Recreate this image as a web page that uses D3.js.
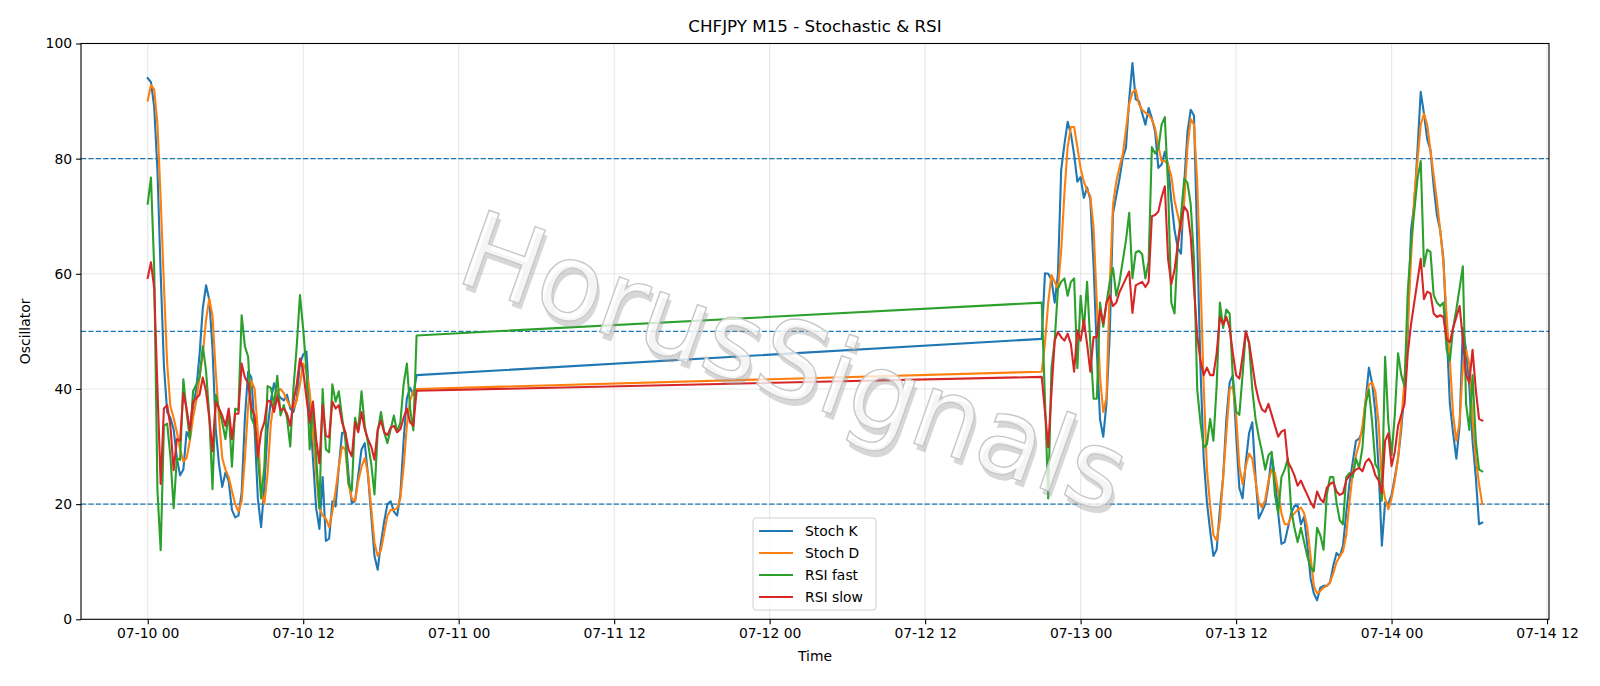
<!DOCTYPE html>
<html>
<head>
<meta charset="utf-8">
<script src="https://cdn.jsdelivr.net/npm/d3@7"></script>
<style>
  body { margin: 0; background: #fff; }
  text { font-family: "DejaVu Sans", sans-serif; }
</style>
</head>
<body>
<svg id="chart" width="1600" height="686"></svg>
<script>
// Session 1: 07-10 00:00 .. 20:45, session 2: 07-12 21:00 .. 07-14 07:00 (M15 bars)
const session1Start = "2020-07-10T00:00:00Z";
const session2Start = "2020-07-12T21:00:00Z";

const stochK1 = [94, 93.3, 89, 78, 60, 44, 36, 35, 33, 28, 25, 26, 32.5, 31.5, 37, 40, 46, 54, 58, 55.5,
  47, 33, 27, 23, 25.5, 24, 19, 17.7, 18, 22, 35, 43, 42, 33, 21, 16, 23, 33, 38, 41,
  39, 38.5, 38, 39, 36.6, 36, 38.4, 44.4, 46, 46.5, 37, 28, 19.3, 15.7, 24.7, 13.6, 14, 20.5, 19.6, 26.5,
  32.4, 32.4, 25, 20.2, 20.5, 25, 29.5, 30.6, 25, 18, 11, 8.6, 13.3, 17, 20, 20.5, 18.7, 18, 21.7, 31,
  38.4, 40.2, 39, 42.4];
const stochD1 = [90.1, 92.8, 92, 86, 73, 58, 44.4, 37, 35, 32.5, 29.5, 27.4, 28, 31, 35, 38, 42, 46, 52, 55.7,
  52.7, 43, 35, 28, 26, 24.7, 22.3, 20, 18.7, 20.5, 28, 37, 41.4, 40, 32.5, 22.3, 20, 25.3, 34, 38,
  39.6, 40, 39.3, 38, 37, 36.6, 38, 40.8, 44.4, 43, 39.6, 32.5, 25.3, 19.3, 18, 17.5, 16, 18.7, 22.3, 26.5,
  30, 29.5, 23.5, 21, 20.5, 24, 26.5, 28, 25.3, 19.3, 13.3, 11, 12, 15, 18, 19, 19, 19.3, 21, 26.5,
  33.6, 38, 39.6, 40];
const rsiFast1 = [72.2, 76.7, 61, 22.3, 12, 33.6, 34, 28.3, 19.3, 28, 27.7, 41.7, 36, 31.3, 39.6, 40.8, 42, 47.4, 43.2, 35.4,
  22.6, 39, 36.6, 34.2, 31.3, 36, 26.5, 36.6, 36.3, 52.8, 47.4, 45.6, 35, 33.6, 28.3, 21, 26.5, 40.5, 40.2, 37.2,
  42.3, 35.4, 37.2, 35, 30, 40.2, 47.4, 56.3, 50.4, 43.2, 29.5, 37.2, 28.3, 19.3, 40, 29.5, 29, 40.8, 37.8, 39.6,
  35, 31.3, 23.5, 22.3, 35, 32.8, 39.6, 33.6, 30.6, 27, 21.7, 32.5, 36, 32.5, 30.6, 33, 35.4, 32.5, 34.2, 40.8,
  44.4, 36.6, 32.8, 49.3];
const rsiSlow1 = [59.3, 62, 57.5, 40, 23.5, 36.6, 37.2, 33.6, 25.9, 31.3, 31, 39.3, 36.6, 32.8, 37.8, 38.4, 39, 42, 39.6, 35,
  29.2, 37.8, 36.6, 35.4, 33.6, 36.6, 31.3, 35.7, 35.7, 44.4, 42, 41, 36.6, 35.4, 28.3, 32.5, 34.2, 38, 37.8, 36,
  38.7, 36.3, 36.6, 35.7, 33.6, 37.8, 40.8, 45.3, 43.2, 38.4, 34.2, 37.8, 31.3, 27.1, 37.2, 31.9, 31.6, 37.8, 36.6, 37.2,
  34.2, 32.5, 29.5, 28.3, 34.2, 32.5, 36, 33, 31.3, 30, 27.7, 33, 34.5, 32.5, 32, 33.3, 33.6, 32.5, 33, 35,
  36.6, 34.2, 33.6, 39.7];

const stochK2 = [48.7, 60.1, 60, 59, 55, 60, 78, 82.5, 86.4, 84.3, 80.7, 76, 76.8, 73.2, 75, 72.9, 61.6, 46.7, 34.7, 31.7,
  37.7, 49.6, 70.5, 73.5, 76.5, 80.1, 81.9, 90.3, 96.6, 90.3, 90, 87.9, 85.9, 88.8, 87, 84.7, 78.4, 79, 81.2, 79,
  72.7, 67.6, 64.5, 63.5, 75.8, 84.7, 88.5, 87.5, 65.7, 43.7, 27.9, 20.3, 15.3, 11, 12.1, 19.1, 24.7, 34.8, 41.1, 42.4,
  32.3, 22.8, 21, 27.3, 32.3, 34.2, 24.7, 17.5, 18.7, 20, 23.5, 28.5, 24.7, 18.4, 13.1, 13.4, 15.9, 18.4, 19.7, 19.7,
  16.5, 17.8, 12.8, 7.1, 4.5, 3.3, 5.5, 5.8, 5.8, 6.4, 9.3, 11.5, 10.9, 12.8, 18.4, 23.5, 27.3, 31, 31.4, 32.6,
  38, 43.7, 41, 36, 26, 12.8, 20.3, 20.1, 21.6, 24.7, 28, 33, 40, 50, 67.6, 72, 81.5, 91.6, 87.8, 83.4,
  81.5, 75.2, 70.2, 67.6, 62.6, 50, 37.4, 32.3, 27.9, 33.6, 50.6, 46.8, 40.5, 31, 24.7, 16.5, 16.8];
const stochD2 = [43, 48, 55, 59.8, 58.6, 57.4, 64, 74, 82, 85.5, 85.5, 82, 78.3, 76, 74.5, 73.5, 68, 55, 42, 36,
  38.5, 58, 72, 76, 78.5, 80.7, 85, 89.5, 91.5, 92, 89.5, 88.5, 88, 87.6, 86.8, 85.3, 82.1, 79.6, 79.6, 79,
  77, 72.7, 70.2, 67.6, 72.7, 82.1, 86.9, 85.9, 75.8, 59.4, 40.5, 26, 19.7, 14.6, 13.7, 17.2, 24.7, 32.3, 39.9, 40.5,
  35.5, 26.6, 23.5, 26.6, 28.8, 27.9, 24.1, 20.3, 19.4, 20.8, 24.1, 26, 25.4, 22.2, 18.4, 16.5, 16.5, 17.8, 18.4, 19,
  19.4, 18.4, 15.9, 10.9, 5.8, 4.5, 4.9, 5.5, 5.8, 6.4, 8, 9.9, 10.9, 11.8, 14.6, 20.3, 25.4, 28.5, 30.4, 33.6,
  38, 40.8, 41.1, 39.5, 34, 24, 21, 19.1, 21, 24.1, 27.9, 34.2, 41.8, 51.2, 62.6, 73.3, 79.6, 85.9, 87.8, 85.9,
  81.5, 77.1, 72.7, 67.6, 62, 52.5, 44.9, 35.5, 31, 34.2, 43.7, 46.8, 44.3, 34.8, 27.9, 23.5, 20];
const rsiFast2 = [55, 38, 21, 43.6, 48.4, 57.4, 58.6, 59.2, 56.2, 58.6, 59.2, 43.6, 56.2, 50.2, 58.6, 47.8, 38.3, 38.3, 55, 50.8,
  55, 58.6, 61, 56.2, 58.6, 62.2, 65.8, 70.6, 59.2, 63.7, 64, 63.4, 59.2, 62.2, 82, 80.9, 81.8, 85.9, 87.2, 75.2,
  55, 53.1, 65.1, 70.2, 76.5, 75.8, 72, 62.6, 39.9, 34.2, 29.8, 30.4, 34.8, 31, 40.5, 55, 50.6, 53.8, 53.1, 41.8,
  36.1, 35.5, 42.4, 50, 48, 39.9, 34.8, 31.7, 29.1, 26, 28.5, 29.1, 21.6, 18.4, 24.7, 26, 27.9, 19.1, 15.9, 13.4,
  15.9, 13.4, 10.9, 9, 8.3, 15.9, 14.6, 12.1, 21.6, 24.7, 24.7, 20.3, 17.2, 16.5, 24.7, 25.4, 24.7, 27.9, 26.3, 29.8,
  37.4, 39.9, 34.2, 26.9, 26, 20.6, 45.6, 34.2, 28.5, 35.5, 46.2, 42.4, 40.5, 56.9, 65.1, 70.8, 76.5, 79.6, 61.3, 64.2,
  63.8, 56.3, 55, 54.4, 55, 46.8, 44.9, 50.6, 53.8, 57.5, 61.3, 37.4, 32.9, 42.4, 31, 26, 25.7];
const rsiSlow2 = [42.1, 36, 29.9, 39.4, 48.4, 49.9, 49, 48.4, 49.6, 47.8, 43, 50.2, 48.4, 52, 47.8, 43, 49, 49, 53.8, 51.4,
  55, 56.2, 54.4, 55, 56.8, 58, 59.2, 60.4, 53.2, 58, 58.3, 58.6, 57.7, 58.6, 70, 70.2, 70.8, 73.3, 75.2, 62.6,
  58.2, 60.7, 65.1, 68.9, 71.7, 70.8, 66.4, 57.5, 49.3, 44.9, 42.4, 43.7, 42.4, 42.4, 46.2, 52.5, 51.2, 52.5, 50.6, 46.2,
  42.4, 41.8, 45.6, 50, 48.1, 44.3, 40.5, 38, 36.4, 36, 37.4, 35.5, 33.6, 31.7, 32.6, 32.9, 27.3, 26.3, 25, 23.2,
  24.1, 22.8, 21.6, 20.3, 19.4, 22.2, 20.9, 20.3, 22.8, 23.5, 23.8, 22.2, 21.6, 21.9, 24.1, 25, 25.4, 26, 26.3, 25.7,
  27.3, 27.9, 26.9, 25, 24.1, 21.9, 31, 32.3, 26.6, 29.1, 33.6, 35.5, 37.4, 46.2, 51.2, 55, 58.8, 62.6, 55.6, 56.9,
  56.6, 53.1, 52.5, 52.8, 52.5, 48.7, 48.1, 50.6, 52.5, 54.4, 48.7, 42.4, 41.1, 46.8, 39.9, 34.8, 34.5];

const seriesNames = ["Stoch K", "Stoch D", "RSI fast", "RSI slow"];
const levels = [20, 50, 80];
const yTicks = [0, 20, 40, 60, 80, 100];

// chart geometry
const margin = {top: 43.5, right: 51, bottom: 66.7, left: 81},
      W = 1600, H = 686,
      width = W - margin.left - margin.right,
      height = H - margin.top - margin.bottom;
const colors = ["#1f77b4", "#ff7f0e", "#2ca02c", "#d62728"];
const bar = 15 * 60 * 1000;

const t1 = new Date(session1Start).getTime(), t2 = new Date(session2Start).getTime();
function joinSessions(a, b) {
  return a.map((v, i) => ({t: new Date(t1 + i * bar), v}))
    .concat(b.map((v, i) => ({t: new Date(t2 + i * bar), v})));
}
const series = [
  joinSessions(stochK1, stochK2),
  joinSessions(stochD1, stochD2),
  joinSessions(rsiFast1, rsiFast2),
  joinSessions(rsiSlow1, rsiSlow2)
];

const svg = d3.select("#chart");
const g = svg.append("g").attr("transform", `translate(${margin.left},${margin.top})`);

// x domain with matplotlib-like 5% padding
const ext = d3.extent(series[0], d => d.t);
const pad = (ext[1] - ext[0]) * 0.05;
const x = d3.scaleUtc().domain([new Date(+ext[0] - pad), new Date(+ext[1] + pad)]).range([0, width]);
const y = d3.scaleLinear().domain([0, 100]).range([height, 0]);

const xTicks = d3.utcHour.every(12).range(new Date("2020-07-10T00:00:00Z"), new Date("2020-07-14T13:00:00Z"));

// grid
g.append("g").selectAll("line").data(xTicks).enter().append("line")
  .attr("x1", d => x(d)).attr("x2", d => x(d)).attr("y1", 0).attr("y2", height)
  .attr("stroke", "#b0b0b0").attr("stroke-opacity", 0.3).attr("stroke-width", 1.1);
g.append("g").selectAll("line").data(yTicks).enter().append("line")
  .attr("x1", 0).attr("x2", width).attr("y1", d => y(d)).attr("y2", d => y(d))
  .attr("stroke", "#b0b0b0").attr("stroke-opacity", 0.3).attr("stroke-width", 1.1);

// level lines
g.append("g").selectAll("line").data(levels).enter().append("line")
  .attr("x1", 0).attr("x2", width).attr("y1", d => y(d)).attr("y2", d => y(d))
  .attr("stroke", "#1f77b4").attr("stroke-width", 1.4).attr("stroke-dasharray", "5.2,2.2");

// series lines
const line = d3.line().x(d => x(d.t)).y(d => y(d.v));
g.append("g").selectAll("path").data(series).enter().append("path")
  .attr("d", line).attr("fill", "none")
  .attr("stroke", (d, i) => colors[i]).attr("stroke-width", 2.1)
  .attr("stroke-linejoin", "round").attr("stroke-linecap", "square");

// watermark
const wm = g.append("g").attr("transform", `translate(${792 - margin.left},${369 - margin.top}) rotate(19.5)`);
wm.append("text").attr("x", 4).attr("y", 5).attr("text-anchor", "middle").attr("dominant-baseline", "middle")
  .attr("font-size", 107).attr("fill", "#9a9a9a").attr("fill-opacity", 0.4).text("HorusSignals");
wm.append("text").attr("text-anchor", "middle").attr("dominant-baseline", "middle")
  .attr("font-size", 107).attr("fill", "#ffffff").attr("fill-opacity", 0.75)
  .attr("stroke", "#c8c8c8").attr("stroke-width", 1.4).text("HorusSignals");

// axes
const xAxis = g.append("g").attr("transform", `translate(0,${height})`)
  .call(d3.axisBottom(x).tickValues(xTicks).tickFormat(d3.utcFormat("%m-%d %H")).tickSize(4.9).tickPadding(4));
const yAxis = g.append("g")
  .call(d3.axisLeft(y).tickValues(yTicks).tickSize(4.9).tickPadding(4));
[xAxis, yAxis].forEach(a => {
  a.select(".domain").remove();
  a.selectAll("line").attr("stroke", "#000").attr("stroke-width", 1.1);
  a.selectAll("text").attr("font-size", 13.9).attr("fill", "#000").attr("font-family", "DejaVu Sans");
});
g.append("rect").attr("width", width).attr("height", height)
  .attr("fill", "none").attr("stroke", "#000").attr("stroke-width", 1.1);

// labels and title
svg.append("text").attr("x", margin.left + width / 2).attr("y", 32).attr("text-anchor", "middle")
  .attr("font-size", 16.7).text("CHFJPY M15 - Stochastic & RSI");
svg.append("text").attr("x", margin.left + width / 2).attr("y", 661).attr("text-anchor", "middle")
  .attr("font-size", 13.9).text("Time");
svg.append("text").attr("transform", `translate(30,${margin.top + height / 2}) rotate(-90)`)
  .attr("text-anchor", "middle").attr("font-size", 13.9).text("Oscillator");

// legend
const legend = svg.append("g").attr("transform", "translate(753,518)");
legend.append("rect").attr("width", 123).attr("height", 92).attr("rx", 3)
  .attr("fill", "#fff").attr("fill-opacity", 0.8).attr("stroke", "#d0d0d0");
seriesNames.forEach((name, i) => {
  const row = legend.append("g").attr("transform", `translate(0,${13 + i * 22})`);
  row.append("line").attr("x1", 6).attr("x2", 40).attr("stroke", colors[i]).attr("stroke-width", 2.1);
  row.append("text").attr("x", 52).attr("dy", "0.35em").attr("font-size", 13.9).text(name);
});
</script>
</body>
</html>
